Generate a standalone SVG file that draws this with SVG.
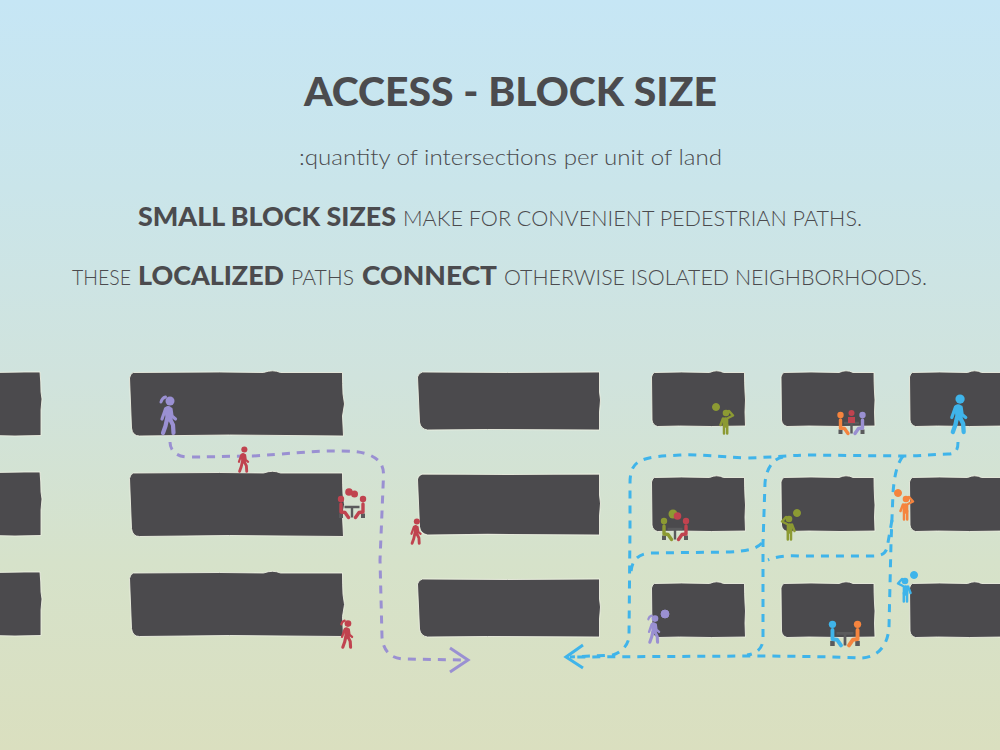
<svg xmlns="http://www.w3.org/2000/svg" width="1000" height="750" viewBox="0 0 1000 750">
<style>
text{font-family:"Lato","Open Sans","Liberation Sans",sans-serif;fill:#4b4b4e;font-weight:300}
text.b{font-weight:900}
.block{fill:#4b4a4d;stroke:#f2f4e6;stroke-width:1;stroke-opacity:.85}
.path{fill:none;stroke-width:3;stroke-dasharray:8 7;stroke-linejoin:round}
.arrow{fill:none;stroke-width:3;stroke-linejoin:miter}
.pu{stroke:#9a90d2;fill:#9a90d2}.re{stroke:#c0434f;fill:#c0434f}.bl{stroke:#3fb4ea;fill:#3fb4ea}.ol{stroke:#8c9a33;fill:#8c9a33}.or{stroke:#f5843e;fill:#f5843e}
.line-pu{stroke:#9a90d2}.line-bl{stroke:#3fb4ea}
.lim{fill:none;stroke-linecap:round;stroke-linejoin:round}
.head{stroke:none}
.furn{stroke:#5a5a5c;fill:#5a5a5c}
</style>
<defs>
<linearGradient id="sky" x1="0" y1="0" x2="0" y2="1">
<stop offset="0" stop-color="#c6e6f5"/><stop offset=".25" stop-color="#cae5ea"/><stop offset=".5" stop-color="#d0e3dd"/><stop offset=".75" stop-color="#d6e2ca"/><stop offset="1" stop-color="#dadfbf"/>
</linearGradient>
<path id="bL" d="M-8,.5 L25,0 L40,0 Q41,10 41,20 L42,27 L41,38 L41,63.5 L15,64 L-8,63.5Z"/>
<path id="bW" d="M4,.5 L90,0 L134,.5 Q139,-1.200 143,-1.200 Q147,-1.200 151,.5 L213,.5 Q213,12 213.500,22 L215,32 L213,44 L214,64 L100,63 L10,64 Q3,64 2,56 L0,6 Q1,1 4,.5Z"/>
<path id="bM" d="M5,0 L90,.5 L182,0 Q182,12 182,20 L183,28 L182,40 L182,58 L70,57.500 L10,58 Q3,57 2,50 L0,5 Q1,1 5,0Z"/>
<path id="bS" d="M3,.5 L30,0 L58,.5 Q62,-1.200 65,-1.200 Q69,-1.200 72,.5 L93,.5 Q93,10 93.500,20 L94,28 L93.500,40 L94,54 L60,54.500 L28,54 L6,54.500 Q1,53 .5,48 L0,5 Q1,1 3,.5Z"/>
<g id="walker">
<circle class="head" cx="2" cy="-33" r="4.500"/>
<path class="lim" stroke-width="7" d="M0,-24.500 L1,-16"/>
<path class="lim" stroke-width="4.200" d="M2,-15 L5,-9 L5.500,-1"/>
<path class="lim" stroke-width="4.200" d="M-1,-15 L-2.500,-8 L-5,-1"/>
<path class="lim" stroke-width="3.200" d="M-2.500,-25 L-6,-15"/>
<path class="lim" stroke-width="3.200" d="M3,-25 L4,-18 L7.500,-15"/>
</g>
<path id="pony" class="lim" stroke-width="3" d="M-2.500,-37 Q-6,-36 -7,-32"/>
<g id="phone">
<circle class="head" cx="0" cy="-21" r="3.300"/>
<path class="lim" stroke-width="5.600" d="M-.5,-14 L-.5,-9"/>
<path class="lim" stroke-width="2.500" d="M-2,-9 L-2,-.5 M1.200,-9 L1.200,-.5"/>
<path class="lim" stroke-width="2.500" d="M-3,-15.500 L-5.500,-9"/>
<path class="lim" stroke-width="2.500" d="M2,-16 L7,-18.500 L3,-23"/>
</g>
<g id="seatL">
<circle class="head" cx="-11" cy="-19" r="3.200"/>
<path class="lim" stroke-width="3.400" d="M-11,-14 L-11,-6 L-7,-5.500 L-3.500,-.5"/>
</g>
<g id="seatR">
<circle class="head" cx="11" cy="-19" r="3.200"/>
<path class="lim" stroke-width="3.400" d="M11,-14 L11,-6 L7,-5.500 L3.500,-.5"/>
</g>
<g id="furniture" class="furn">
<path fill="none" stroke-width="2.400" d="M-7.500,-11 L7.500,-11 M0,-11 L0,-.5"/>
<rect x="-13" y="-4.500" width="4" height="4.500" stroke="none"/>
<rect x="9" y="-4.500" width="4" height="4.500" stroke="none"/>
</g>
</defs>

<rect id="background" x="0" y="0" width="1000" height="750" fill="url(#sky)"/>

<g id="title-text">
<text x="510.500" y="106" font-size="40" text-anchor="middle" class="b" textLength="413" lengthAdjust="spacingAndGlyphs">ACCESS - BLOCK SIZE</text>
<text x="299" y="165" font-size="22" textLength="423" lengthAdjust="spacingAndGlyphs">:quantity of intersections per unit of land</text>
<text x="138" y="225.500" font-size="27" class="b" textLength="258" lengthAdjust="spacingAndGlyphs">SMALL BLOCK SIZES</text>
<text x="403" y="225.500" font-size="22" textLength="459" lengthAdjust="spacingAndGlyphs">MAKE FOR CONVENIENT PEDESTRIAN PATHS.</text>
<text x="72" y="285" font-size="22" textLength="59" lengthAdjust="spacingAndGlyphs">THESE</text>
<text x="138" y="285" font-size="27" class="b" textLength="146" lengthAdjust="spacingAndGlyphs">LOCALIZED</text>
<text x="291" y="285" font-size="22" textLength="63" lengthAdjust="spacingAndGlyphs">PATHS</text>
<text x="362" y="285" font-size="27" class="b" textLength="135" lengthAdjust="spacingAndGlyphs">CONNECT</text>
<text x="504" y="285" font-size="22" textLength="423" lengthAdjust="spacingAndGlyphs">OTHERWISE ISOLATED NEIGHBORHOODS.</text>
</g>

<g id="blocks">
<g id="block-1-1"><use href="#bL" class="block" transform="translate(0,372)"/></g>
<g id="block-1-2"><use href="#bL" class="block" transform="translate(0,472)"/></g>
<g id="block-1-3"><use href="#bL" class="block" transform="translate(0,572)"/></g>
<g id="block-2-1"><use href="#bW" class="block" transform="translate(129.500,372)"/></g>
<g id="block-2-2"><use href="#bW" class="block" transform="translate(129.500,472.500)"/></g>
<g id="block-2-3"><use href="#bW" class="block" transform="translate(129.500,572.500)"/></g>
<g id="block-3-1"><use href="#bM" class="block" transform="translate(417.500,372)"/></g>
<g id="block-3-2"><use href="#bM" class="block" transform="translate(417.500,474) scale(1,1.05)"/></g>
<g id="block-3-3"><use href="#bM" class="block" transform="translate(417.500,579)"/></g>
<g id="block-4-1"><use href="#bS" class="block" transform="translate(651.500,372)"/></g>
<g id="block-4-2"><use href="#bS" class="block" transform="translate(651.500,477)"/></g>
<g id="block-4-3"><use href="#bS" class="block" transform="translate(651.500,583)"/></g>
<g id="block-5-1"><use href="#bS" class="block" transform="translate(781,372)"/></g>
<g id="block-5-2"><use href="#bS" class="block" transform="translate(781,477)"/></g>
<g id="block-5-3"><use href="#bS" class="block" transform="translate(781,583)"/></g>
<g id="block-6-1"><use href="#bS" class="block" transform="translate(909.500,372)"/></g>
<g id="block-6-2"><use href="#bS" class="block" transform="translate(909.500,477)"/></g>
<g id="block-6-3"><use href="#bS" class="block" transform="translate(909.500,583)"/></g>
</g>

<g id="connectors">
<path class="path line-pu" d="M170,442 C170,450 176,457 188,457 C215,457 235,456 253,456 C285,454 310,451 333,451 C350,451 358,451 367,454 C378,458 384,464 383.500,476 L380,560 L382,637 C383,650 390,659 405,659 L466,660"/>
<path class="arrow line-pu" d="M450,648 L468,660 L450,672"/>
<path class="path line-bl" d="M958,442 C958,450 956,454 948,454 C920,455 920,456 903,456 L810,455 C790,455 780,457 747,458 C720,457 700,454 680,455 C665,456 650,456 640,461 C632,465 630,473 630,483 L630,527 L629,637 C628,645 622,652 613,655 L570,657"/>
<path class="path line-bl" d="M783,457 C772,459 766,470 765,483 L763,543 L763,640 C762,650 755,654 747,655"/>
<path class="path line-bl" d="M903,456 C896,465 894,480 893,493 L891,543 L889,627 C888,645 878,658 860,658 C840,657 800,656 750,656 L570,657"/>
<path class="path line-bl" d="M892,520 L887,548 C885,555 880,556 870,556 L800,556 C785,555 775,557 768,560"/>
<path class="path line-bl" d="M762,543 C755,550 745,551 730,552 L650,553 C638,554 632,560 631,572"/>
<path class="arrow line-bl" d="M583,645 L566,657 L583,668"/>
</g>

<g id="people">
<g id="person-purple-walker" class="pu" transform="translate(168,434)"><use href="#walker"/><use href="#pony"/></g>
<g id="person-red-walker-1" class="re" transform="translate(243,472) scale(.68)"><use href="#walker"/></g>
<g id="person-red-walker-2" class="re" transform="translate(415.500,544) scale(.68)"><use href="#walker"/></g>
<g id="person-red-walker-3" class="re" transform="translate(346.500,648) scale(.74)"><use href="#walker"/><use href="#pony"/></g>
<g id="person-blue-walker" class="bl" transform="translate(958,433) scale(1.03)"><use href="#walker"/></g>
<g id="person-purple-bubble" class="pu" transform="translate(653.500,643) scale(.74)"><use href="#walker"/><use href="#pony"/></g>
<circle id="bubble-purple" class="pu" stroke="none" cx="665" cy="614" r="4"/>

<g id="person-olive-1" class="ol" transform="translate(726,434)"><use href="#phone"/></g>
<circle id="bubble-olive-1" class="ol" cx="716" cy="407" r="3.500"/>
<g id="person-olive-2" class="ol" transform="translate(789,540) scale(-1,1)"><use href="#phone"/></g>
<circle id="bubble-olive-2" class="ol" cx="797" cy="513" r="3.500"/>
<g id="person-orange" class="or" transform="translate(906,520)"><use href="#phone"/></g>
<circle id="bubble-orange" class="or" cx="898" cy="493" r="3.500"/>
<g id="person-blue-phone" class="bl" transform="translate(905,602) scale(-1,1)"><use href="#phone"/></g>
<circle id="bubble-blue" class="bl" cx="914" cy="575" r="3.500"/>

<g id="table-red" transform="translate(352,518)">
<use href="#furniture"/>
<g class="re"><use href="#seatL"/><use href="#seatR"/>
<circle cx="-3" cy="-26" r="3.800" stroke="none"/><circle cx="2.500" cy="-24" r="3.500" stroke="none"/></g>
</g>
<g id="table-olive-red" transform="translate(675,540)">
<use href="#furniture"/>
<g class="ol"><use href="#seatL"/><circle cx="-2" cy="-26" r="4.500" stroke="none"/></g>
<g class="re"><use href="#seatR"/><circle cx="2.500" cy="-24" r="3.800" stroke="none"/></g>
</g>
<g id="table-blue-orange" transform="translate(845,646) scale(1.14)">
<use href="#furniture"/>
<g class="bl"><use href="#seatL"/></g>
<g class="or"><use href="#seatR"/></g>
</g>
<g id="table-three" transform="translate(851.500,434)">
<use href="#furniture"/>
<g class="or"><use href="#seatL"/></g>
<g class="pu"><use href="#seatR"/></g>
<g class="re"><circle cx="0" cy="-21" r="3" stroke="none"/><rect x="-3.500" y="-17" width="7" height="6" stroke="none"/></g>
</g>
</g>
</svg>
